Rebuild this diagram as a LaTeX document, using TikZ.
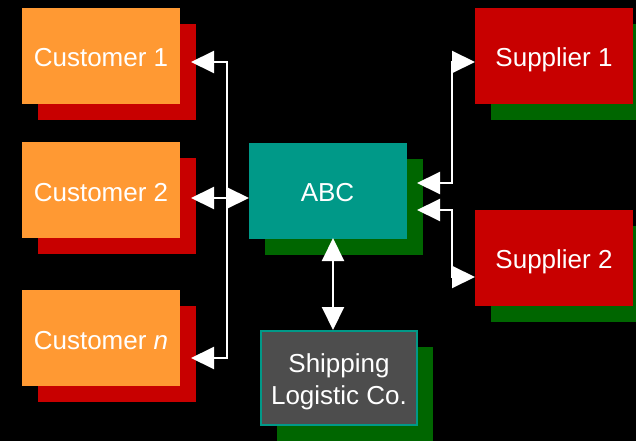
\documentclass[tikz,border=0pt]{standalone}
\usepackage{fontspec}
\setmainfont{Liberation Sans}
\usetikzlibrary{arrows.meta,shadows}
\definecolor{corange}{HTML}{FF9933}
\definecolor{cred}{HTML}{C80000}
\definecolor{cgreen}{HTML}{006600}
\definecolor{cteal}{HTML}{009988}
\definecolor{cgrey}{HTML}{4D4D4D}
\begin{document}
\begin{tikzpicture}[x=1pt,y=-1pt,
  box/.style={rectangle, minimum width=158pt, minimum height=96pt, inner sep=0pt,
    text=white, font=\fontsize{26}{32}\selectfont, align=center},
  oneline/.style={text height=22pt, text depth=0pt},
  redshadow/.style={general shadow={fill=cred, shadow xshift=16pt, shadow yshift=-16pt}},
  greenshadow/.style={general shadow={fill=cgreen, shadow xshift=16pt, shadow yshift=-16pt}},
  link/.style={draw=white, line width=2pt, {Triangle[length=23pt,width=22pt]}-{Triangle[length=23pt,width=22pt]}}
]
\fill[black] (0,0) rectangle (636,441);
\useasboundingbox (0,0) rectangle (636,441);

\node[box, oneline, fill=corange, redshadow] (c1) at (101,56) {Customer 1};
\node[box, oneline, fill=corange, redshadow] (c2) at (101,190) {Customer 2};
\node[box, oneline, fill=corange, redshadow] (cn) at (101,338) {Customer \textit{n}};
\node[box, oneline, fill=cteal, greenshadow] (abc) at (327.5,190.5) {ABC};
\node[box, fill=cgrey, draw=cteal, line width=2pt, minimum width=156pt, minimum height=94pt, greenshadow] (ship) at (339,378) {\rule{0pt}{27pt}Shipping\\Logistic Co.};
\node[box, oneline, fill=cred, greenshadow] (s1) at (554,56) {Supplier 1};
\node[box, oneline, fill=cred, greenshadow] (s2) at (554,257.5) {Supplier 2};

% connector end points and bends
\coordinate (c1t) at (191,62);
\coordinate (c1b) at (227,62);
\coordinate (cnb) at (227,358);
\coordinate (cnt) at (191,358);
\coordinate (c2t) at (191,198);
\coordinate (abcl) at (249,198);
\coordinate (abct) at (333,238);
\coordinate (shipt) at (333,330);
\coordinate (a1t) at (417,183);
\coordinate (a1b) at (452,183);
\coordinate (s1b) at (452,62);
\coordinate (s1t) at (475,62);
\coordinate (a2t) at (417,210);
\coordinate (a2b) at (452,210);
\coordinate (s2b) at (452,277);
\coordinate (s2t) at (475,277);

\draw[link] (c1t) -- (c1b) -- (cnb) -- (cnt);
\draw[link] (c2t) -- (abcl);
\draw[link] (abct) -- (shipt);
\draw[link] (a1t) -- (a1b) -- (s1b) -- (s1t);
\draw[link] (a2t) -- (a2b) -- (s2b) -- (s2t);
\end{tikzpicture}
\end{document}
